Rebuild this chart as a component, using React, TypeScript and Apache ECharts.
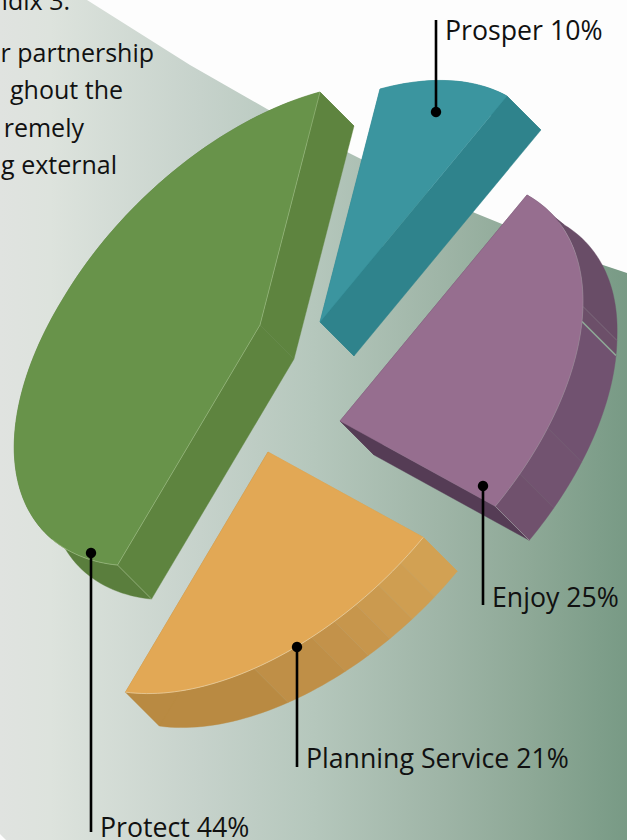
import React, { useEffect, useRef } from "react";
import * as echarts from "echarts";

const categories = ["Prosper", "Enjoy", "Planning Service", "Protect"];
const shares = [10, 25, 21, 44];
const bodyLines = ["ndix 3:", "r partnership", "ghout the", "remely", "g external"];

// Pie projection (skewed disc) and depth of the extrusion.
const AXIS_A = [60, -233];
const AXIS_B = [235.5, -63.8];
const DEPTH = [34, 34];

// Layout and styling per slice, kept apart from the values.
const apexes = [[320, 322], [340, 421], [268, 452], [260, 325]];
const topColors = ["#3b959f", "#966e8f", "#e2a855", "#68934a"];
const fromWallColors = ["#2f838c", "#664a63", "#d2a153", "#5e843f"];
const toWallColors = ["#2f838c", "#553c55", "#b98a42", "#5e843f"];
const edgeColors = ["rgba(255,255,255,0)", "rgba(170,170,170,0.45)", "rgba(235,215,180,0.8)", "rgba(190,215,165,0.6)"];
// Facets on the outer wall: [end angle offset from slice start in degrees, colour]
const wallFacets: [number, string][][] = [
  [[36, "#2f838c"]],
  [[41, "#694d67"], [45, "#6c4f69"], [71, "#715270"], [82, "#725370"], [90, "#70516d"]],
  [[6.7, "#d2a153"], [12.7, "#cf9e51"], [18.5, "#cb9a4f"], [23.9, "#c7964c"], [29.4, "#c3924a"], [43, "#bf8f47"], [75.6, "#b98a42"]],
  [[158.4, "#5a7e3d"]],
];
const leaders = [
  { x: 436, top: 20, bottom: 112, dotY: 112, textY: 29 },
  { x: 483, top: 486, bottom: 605, dotY: 486, textY: 596 },
  { x: 297, top: 647, bottom: 767, dotY: 647, textY: 757 },
  { x: 91, top: 553, bottom: 832, dotY: 553, textY: 826 },
];
const bodyRight = [70, 154, 123, 84, 117];
const bodyMiddle = [0, 52, 89, 127, 164];

const total = shares.reduce((s, v) => s + v, 0);
const startAngle = (i: number) => shares.slice(0, i).reduce((s, v) => s + (v / total) * 360, 0);

// Small hand-drawn deviations of the reference's outline from a true ellipse.
function bulge(i: number, deg: number, ex: boolean) {
  if (i === 3 && deg > 201.6 && deg < 291.6) return 1 + 0.012 * Math.sin((Math.PI * (deg - 201.6)) / 90);
  if (i === 1 && ex && deg < 76) return 1 + 0.018 * (1 - (deg - 36) / 40);
  return 1;
}
function pt(i: number, deg: number, ex = false) {
  const apex = apexes[i];
  const t = (deg * Math.PI) / 180;
  const r = bulge(i, deg, ex);
  const c = Math.cos(t) * r;
  const s = Math.sin(t) * r;
  return [
    apex[0] + AXIS_A[0] * c + AXIS_B[0] * s + (ex ? DEPTH[0] : 0),
    apex[1] + AXIS_A[1] * c + AXIS_B[1] * s + (ex ? DEPTH[1] : 0),
  ];
}
function arc(i: number, from: number, to: number, ex = false) {
  const n = Math.max(2, Math.ceil(Math.abs(to - from) / 1.5));
  const out: number[][] = [];
  for (let k = 0; k <= n; k++) out.push(pt(i, from + ((to - from) * k) / n, ex));
  return out;
}
const poly = (points: number[][], fill: string) => ({
  type: "polygon",
  shape: { points },
  style: { fill, stroke: fill, lineWidth: 0.4 },
});
const line = (points: number[][], stroke: string, lineWidth = 0.7) => ({
  type: "polyline",
  shape: { points },
  style: { fill: "none", stroke, lineWidth },
});

function renderSlice(params: any, api: any) {
  const i = params.dataIndex;
  const value = api.value(0);
  const from = startAngle(i);
  const to = from + (value / total) * 360;
  const apex = apexes[i];
  const apexLow = [apex[0] + DEPTH[0], apex[1] + DEPTH[1]];
  const children: any[] = [];
  children.push(poly([apex, pt(i, from), pt(i, from, true), apexLow], fromWallColors[i]));
  let prev = from;
  wallFacets[i].forEach(([end, color], k) => {
    const stop = from + end;
    children.push(poly([...arc(i, prev, stop), ...arc(i, stop, prev, true)], color));
    if (i === 2 && k < wallFacets[i].length - 1) {
      children.push(line([pt(i, stop), pt(i, stop, true)], "rgba(255,255,255,0.1)", 0.6));
    }
    prev = stop;
  });
  children.push(poly([apex, pt(i, to), pt(i, to, true), apexLow], toWallColors[i]));
  if (i === 1) {
    children.push(line([pt(i, from + 41), pt(i, from + 41, true)], "rgba(170,170,170,0.4)", 0.6));
    children.push(line([pt(i, from + 45), pt(i, from + 45, true)], "#8fa997", 1.6));
  }
  children.push(poly([apex, ...arc(i, from, to)], topColors[i]));
  const e = edgeColors[i];
  if (i === 3) {
    children.push(line([pt(i, 360), apex, pt(i, from)], e));
    children.push(line(arc(i, from, from + 22), e));
    children.push(line([pt(i, from), pt(i, from, true)], e));
  } else if (i === 2) {
    children.push(line(arc(i, from, to), e, 0.8));
  } else if (i === 1) {
    children.push(line(arc(i, from + 14, to), e, 0.7));
    children.push(line([pt(i, to), pt(i, to, true)], "rgba(190,190,190,0.7)", 0.8));
  }
  return { type: "group", children };
}

export default function App() {
  const ref = useRef<HTMLDivElement>(null);
  useEffect(() => {
    document.body.style.margin = "0";
    const chart = echarts.init(ref.current!, undefined, { renderer: "svg", width: 627, height: 840 });
    const font = '"Open Sans", "Noto Sans", sans-serif';
    const graphic: any[] = [
      {
        type: "polygon",
        z: -1,
        shape: {
          points: [[87, 0], [190, 65], [267, 109], [347, 152], [363, 160], [475, 213], [600, 264], [627, 273], [627, 840], [6, 840], [0, 834], [0, 0]],
        },
        style: {
          fill: new echarts.graphic.LinearGradient(0, 0, 1, 0, [
            { offset: 0, color: "#e0e3e0" },
            { offset: 0.08, color: "#dde3dd" },
            { offset: 0.32, color: "#c6d2cb" },
            { offset: 0.5, color: "#b5c7bc" },
            { offset: 0.7, color: "#9fb5a7" },
            { offset: 0.85, color: "#8da896" },
            { offset: 1, color: "#789a85" },
          ]),
        },
      },
    ];
    bodyLines.forEach((t, k) => {
      graphic.push({
        type: "text",
        z: 10,
        x: bodyRight[k],
        y: bodyMiddle[k],
        style: { text: t, fill: "#111", font: `25px ${font}`, textAlign: "right", textVerticalAlign: "middle" },
      });
    });
    categories.forEach((c, i) => {
      const l = leaders[i];
      graphic.push({
        type: "line",
        z: 10,
        shape: { x1: l.x, y1: l.top, x2: l.x, y2: l.bottom },
        style: { stroke: "#000", lineWidth: 2.6 },
      });
      graphic.push({ type: "circle", z: 10, shape: { cx: l.x, cy: l.dotY, r: 5.2 }, style: { fill: "#000" } });
      graphic.push({
        type: "text",
        z: 10,
        x: l.x + 9,
        y: l.textY,
        style: { text: `${c} ${shares[i]}%`, fill: "#111", font: `26.7px ${font}`, textAlign: "left", textVerticalAlign: "middle" },
      });
    });
    chart.setOption({
      animation: false,
      backgroundColor: "#fdfdfd",
      graphic,
      series: [
        {
          type: "custom",
          coordinateSystem: "none",
          clip: false,
          silent: true,
          renderItem: renderSlice,
          data: shares.map((v, i) => ({ name: categories[i], value: [v] })),
          encode: { value: 0 },
        },
      ],
    });
    return () => chart.dispose();
  }, []);
  return <div ref={ref} style={{ position: "absolute", left: 0, top: 0, width: 627, height: 840, overflow: "hidden" }} />;
}
